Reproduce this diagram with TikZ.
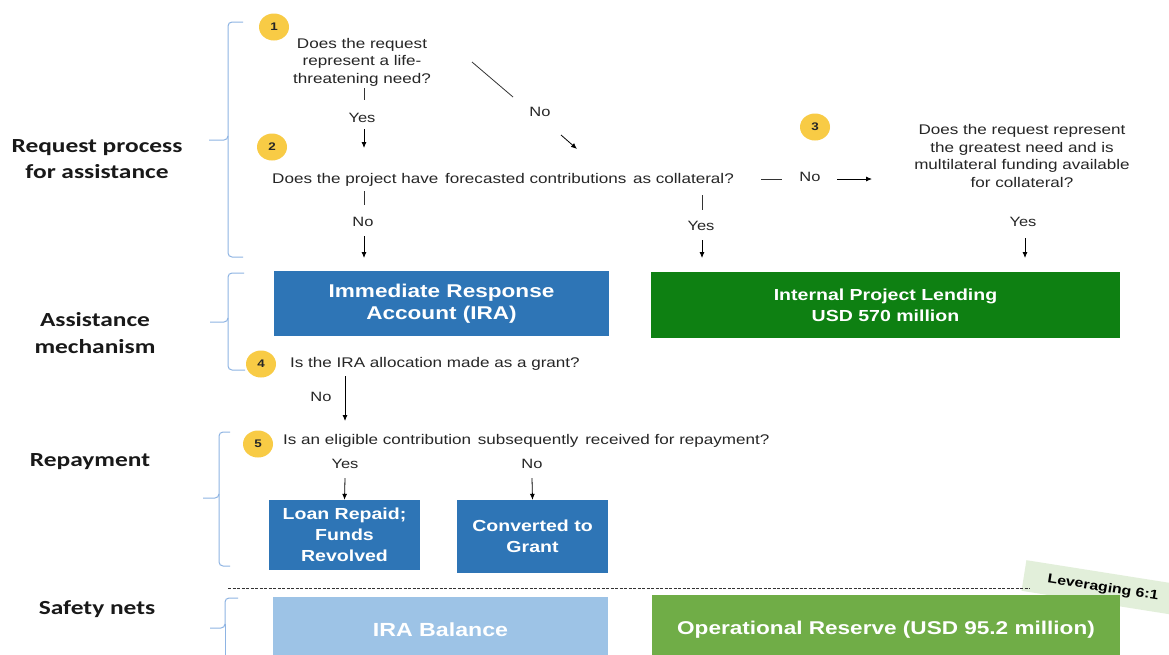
\documentclass[tikz,border=0pt]{standalone}
\usepackage{fontspec}
\setmainfont[FakeStretch=1.22]{Liberation Sans}
\newfontfamily\calibrifont[FakeStretch=1.27]{Carlito}
\usetikzlibrary{arrows.meta,shapes.geometric}
\definecolor{txt}{HTML}{262626}
\definecolor{brk}{HTML}{8EB4E3}
\definecolor{ylw}{HTML}{F8CB45}
\definecolor{iblue}{HTML}{2E75B6}
\definecolor{igreen}{HTML}{0E8012}
\definecolor{lblue}{HTML}{9DC3E6}
\definecolor{lgreen}{HTML}{70AD47}
\definecolor{tag}{HTML}{E2EFDA}
\begin{document}
\begin{tikzpicture}[x=1pt,y=-1pt,
  q/.style={font=\fontsize{14}{17.5}\selectfont, text=txt, align=center, inner sep=0pt},
  yn/.style={font=\fontsize{13.5}{16}\selectfont, text=txt, inner sep=0pt},
  num/.style={ellipse, fill=ylw, minimum width=30pt, minimum height=27pt, inner sep=0pt, font=\bfseries\fontsize{11}{12}\selectfont, text=txt},
  sec/.style={font=\calibrifont\bfseries\fontsize{20}{26.5}\selectfont, text=black!90, align=center, inner sep=0pt},
  box/.style={text=white, align=center, inner sep=0pt, font=\bfseries},
  brace/.style={draw=brk, line width=1pt, rounded corners=4pt},
  arr/.style={draw=black, line width=0.8pt, -{Latex[length=6pt,width=5pt]}},
  ln/.style={draw=black!80, line width=0.8pt}]
\clip (0,0) rectangle (1169,654);
\fill[white] (0,0) rectangle (1169,654);

% section labels
\node[sec] (s1) at (97,159) {Request process\\for assistance};
\node[sec] (s2) at (95,333) {Assistance\\mechanism};
\node[sec] (s3) at (90,462) {Repayment};
\node[sec] (s4) at (97,609) {Safety nets};

% braces
\draw[brace] (243,22) -- (228,22) -- (228,140) -- (209,140);
\draw[brace] (228,136) -- (228,257) -- (243,257);
\draw[brace] (244,273) -- (228,273) -- (228,322) -- (210,322);
\draw[brace] (228,318) -- (228,370) -- (245,370);
\draw[brace] (230,432) -- (219,432) -- (219,498) -- (203,498);
\draw[brace] (219,494) -- (219,566) -- (230,566);
\draw[brace] (238,598) -- (225,598) -- (225,628) -- (210,628);
\draw[brace] (225,624) -- (225,660);

% number badges
\node[num] (n1) at (274,27) {1};
\node[num] (n2) at (272,147) {2};
\node[num] (n3) at (815,127) {3};
\node[num] (n4) at (261,364) {4};
\node[num] (n5) at (258,444) {5};

% questions
\node[q] (q1) at (362,62) {Does the request\\represent a life-\\threatening need?};
\node[q] (q2) at (503,180) {Does the project have\hspace{2pt} forecasted contributions\hspace{2pt} as collateral?};
\node[q] (q3) at (1022,156) {Does the request represent\\the greatest need and is\\multilateral funding available\\for collateral?};
\node[q, anchor=west] (q4) at (290,364) {Is the IRA allocation made as a grant?};
\node[q, anchor=west] (q5) at (283,441) {Is an eligible contribution\hspace{2pt} subsequently\hspace{2pt} received for repayment?};

% yes / no labels
\node[yn] (y1) at (362,118) {Yes};
\node[yn] (no1) at (540,112) {No};
\node[yn] (no2) at (363,222) {No};
\node[yn] (y2) at (701,226) {Yes};
\node[yn] (no3) at (810,177) {No};
\node[yn] (y3) at (1023,222) {Yes};
\node[yn] (no4) at (321,397) {No};
\node[yn] (y5) at (345,464) {Yes};
\node[yn] (no5) at (532,464) {No};

% leveraging tag (behind the reserve box)
\node[rotate=-9, fill=tag, minimum width=160pt, minimum height=31pt, font=\bfseries\fontsize{13}{15}\selectfont, text=black, inner sep=0pt] (lev) at (1103,588) {Leveraging 6:1};

% boxes
\node[box, fill=iblue, minimum width=335pt, minimum height=65pt, font=\bfseries\fontsize{18.5}{23.5}\selectfont] (ira) at (441.5,303.5) {\raisebox{-2pt}{\begin{tabular}{@{}c@{}}Immediate Response\\[-1.5pt]Account (IRA)\end{tabular}}};
\node[box, fill=igreen, minimum width=469pt, minimum height=66pt, font=\bfseries\fontsize{16}{21}\selectfont] (ipl) at (885.5,305) {Internal Project Lending\\USD 570 million};
\node[box, fill=iblue, minimum width=151pt, minimum height=70pt, font=\bfseries\fontsize{16}{21}\selectfont] (loan) at (344.5,535) {Loan Repaid;\\Funds\\Revolved};
\node[box, fill=iblue, minimum width=151pt, minimum height=73pt, font=\bfseries\fontsize{16}{21}\selectfont] (conv) at (532.5,536.5) {Converted to\\Grant};
\node[box, fill=lblue, minimum width=335pt, minimum height=66pt, font=\bfseries\fontsize{19}{23}\selectfont] (bal) at (440.5,630) {IRA Balance};
\node[box, fill=lgreen, minimum width=468pt, minimum height=70pt, font=\bfseries\fontsize{18.5}{22}\selectfont] (opr) at (886,630) {Operational Reserve (USD 95.2 million)};

% dashed separator
\coordinate (d1) at (228,588);
\coordinate (d2) at (1030,588);
\draw[line width=0.8pt, black!80, dash pattern=on 3pt off 1.5pt] (d1) -- (d2);

% connectors: Q1 yes
\coordinate (a1) at (364,88); \coordinate (a2) at (364,100);
\coordinate (a3) at (364,129); \coordinate (a4) at (364,148);
\draw[ln] (a1) -- (a2);
\draw[arr] (a3) -- (a4);
% Q1 no
\coordinate (b1) at (472,62); \coordinate (b2) at (513,97);
\coordinate (b3) at (561,135); \coordinate (b4) at (577,149);
\draw[ln] (b1) -- (b2);
\draw[arr] (b3) -- (b4);
% Q2 no
\coordinate (c1) at (364,191); \coordinate (c2) at (364,205);
\coordinate (c3) at (364,236); \coordinate (c4) at (364,258);
\draw[ln] (c1) -- (c2);
\draw[arr] (c3) -- (c4);
% Q2 yes
\coordinate (e1) at (702,195); \coordinate (e2) at (702,210);
\coordinate (e3) at (702,240); \coordinate (e4) at (702,258);
\draw[ln] (e1) -- (e2);
\draw[arr] (e3) -- (e4);
% Q2 no -> Q3
\coordinate (f1) at (761,179); \coordinate (f2) at (782,179);
\coordinate (f3) at (837,179); \coordinate (f4) at (872,179);
\draw[ln] (f1) -- (f2);
\draw[arr] (f3) -- (f4);
% Q3 yes
\coordinate (g3) at (1025,238); \coordinate (g4) at (1025,258);
\draw[arr] (g3) -- (g4);
% Q4 no
\coordinate (h1) at (345,376); \coordinate (h2) at (345,421);
\draw[arr] (h1) -- (h2);
% Q5
\coordinate (i1) at (345,478); \coordinate (j1) at (532,478);
\draw[arr] (i1) -- (loan.north);
\draw[arr] (j1) -- (conv.north);
\end{tikzpicture}
\end{document}
